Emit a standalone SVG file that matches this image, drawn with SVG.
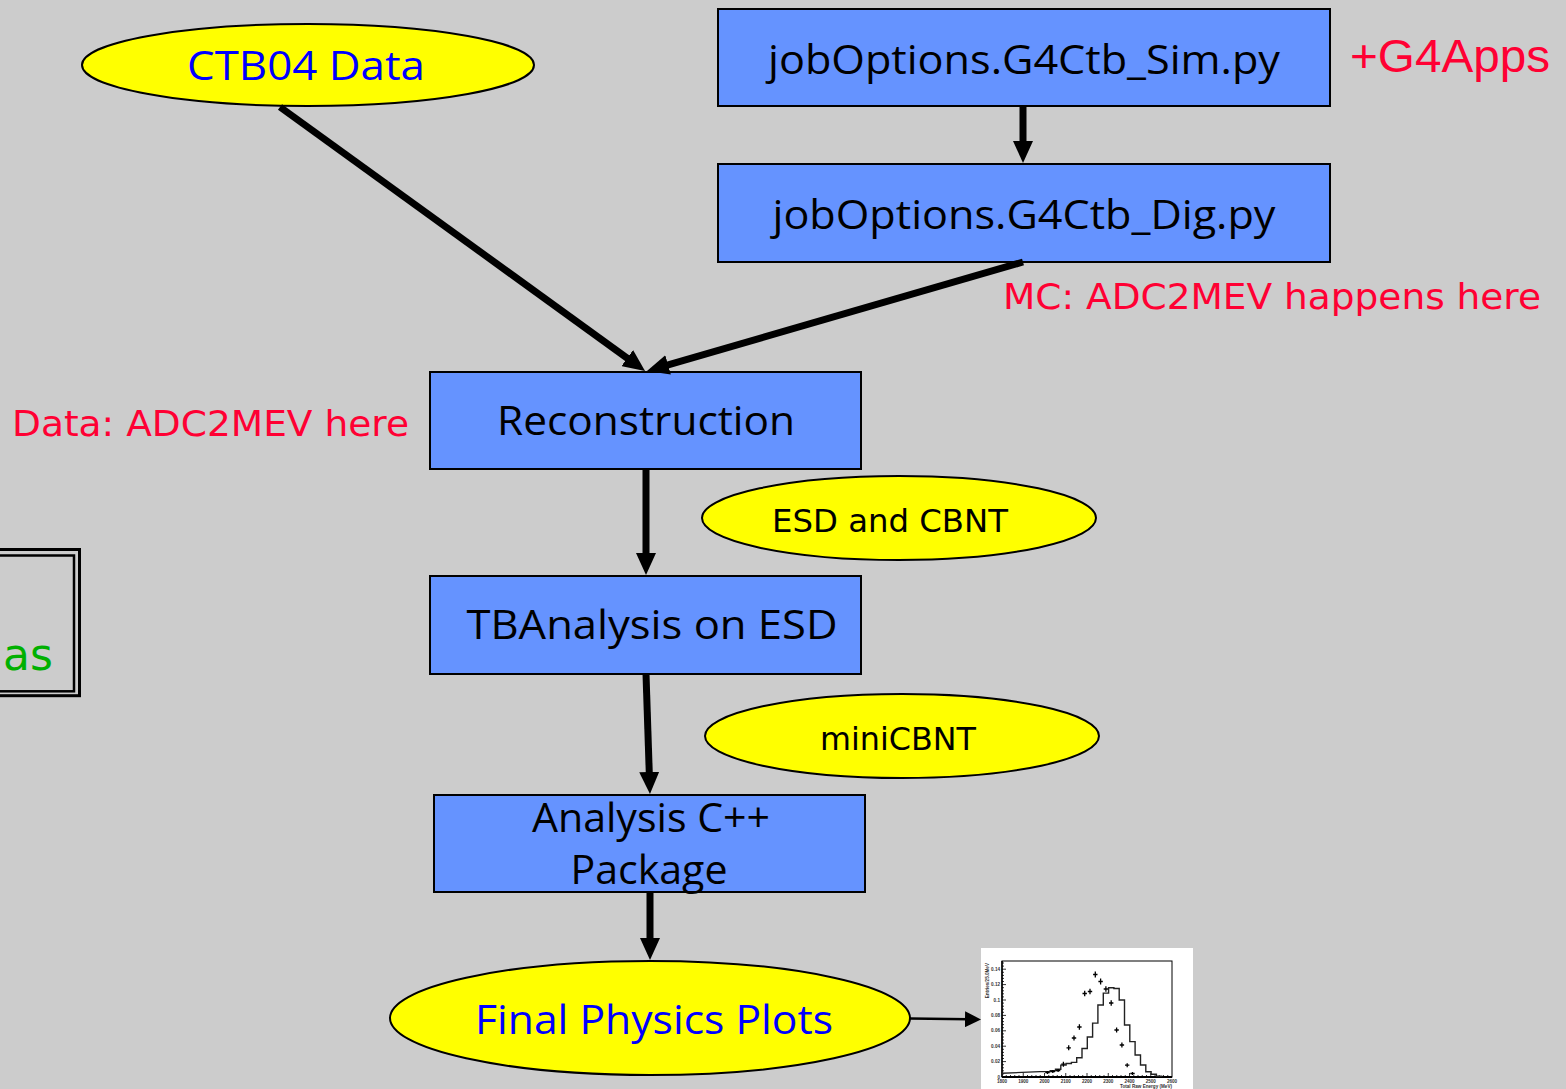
<svg xmlns="http://www.w3.org/2000/svg" width="1566" height="1089" viewBox="0 0 1566 1089">
  <style>
    .box { fill: #6593ff; stroke: #000; stroke-width: 2; }
    .oval { fill: #ffff00; stroke: #000; stroke-width: 2; }
    .hand { font-family: "Open Sans", "DejaVu Sans", sans-serif; font-size: 40px; fill: #000; text-anchor: middle; }
    .blue { fill: #0000ff; }
    .verd { font-family: "DejaVu Sans", Verdana, sans-serif; font-size: 32px; fill: #000; text-anchor: middle; }
    .note { font-family: "DejaVu Sans", Verdana, sans-serif; font-size: 36px; fill: #ff0033; }
    .conn { stroke: #000; stroke-width: 7; fill: none; }
    .thin { stroke: #000; stroke-width: 2.5; fill: none; }
    .tick { font-family: "Liberation Sans", Arial, sans-serif; font-size: 4.6px; font-weight: bold; fill: #333; }
  </style>
  <defs>
    <marker id="head" markerUnits="userSpaceOnUse" markerWidth="22" markerHeight="20" refX="8" refY="10" orient="auto">
      <path d="M0,0 L22,10 L0,20 Z" fill="#000"/>
    </marker>
    <marker id="headSmall" markerUnits="userSpaceOnUse" markerWidth="16" markerHeight="16" refX="4" refY="8" orient="auto">
      <path d="M0,0 L16,8 L0,16 Z" fill="#000"/>
    </marker>
  </defs>

  <rect x="0" y="0" width="1566" height="1089" fill="#cccccc"/>

  <!-- partially visible framed label at the left edge -->
  <g id="side-frame">
    <rect x="-20" y="549.5" width="99.5" height="146.2" fill="none" stroke="#000" stroke-width="3"/>
    <rect x="-20" y="555.5" width="94" height="135.8" fill="none" stroke="#000" stroke-width="2.5"/>
    <text x="53" y="670" text-anchor="end" font-family="DejaVu Sans, Verdana, sans-serif" font-size="44" fill="#00b000">as</text>
  </g>

  <g id="ctb04-data">
    <ellipse class="oval" cx="308" cy="65" rx="226" ry="41"/>
    <text class="hand blue" x="306" y="80" textLength="238" lengthAdjust="spacingAndGlyphs">CTB04 Data</text>
  </g>

  <g id="sim">
    <rect class="box" x="718" y="9" width="612" height="97"/>
    <text class="hand" x="1024" y="74" textLength="512" lengthAdjust="spacingAndGlyphs">jobOptions.G4Ctb_Sim.py</text>
  </g>

  <text id="g4apps" x="1350" y="72" font-family="Liberation Sans, Arial, sans-serif" font-size="46" fill="#ff0033" textLength="200" lengthAdjust="spacingAndGlyphs">+G4Apps</text>

  <g id="dig">
    <rect class="box" x="718" y="164" width="612" height="98"/>
    <text class="hand" x="1024" y="229" textLength="503" lengthAdjust="spacingAndGlyphs">jobOptions.G4Ctb_Dig.py</text>
  </g>

  <text id="mc-note" class="note" x="1003" y="309" textLength="538" lengthAdjust="spacingAndGlyphs">MC: ADC2MEV happens here</text>
  <text id="data-note" class="note" x="12" y="436" textLength="397" lengthAdjust="spacingAndGlyphs">Data: ADC2MEV here</text>

  <g id="reconstruction">
    <rect class="box" x="430" y="372" width="431" height="97"/>
    <text class="hand" x="646" y="435" textLength="298" lengthAdjust="spacingAndGlyphs">Reconstruction</text>
  </g>

  <g id="esd-cbnt">
    <ellipse class="oval" cx="899" cy="518" rx="197" ry="42"/>
    <text class="verd" x="890" y="532" textLength="236" lengthAdjust="spacingAndGlyphs">ESD and CBNT</text>
  </g>

  <g id="tbanalysis">
    <rect class="box" x="430" y="576" width="431" height="98"/>
    <text class="hand" x="652" y="639" textLength="371" lengthAdjust="spacingAndGlyphs">TBAnalysis on ESD</text>
  </g>

  <g id="minicbnt">
    <ellipse class="oval" cx="902" cy="736" rx="197" ry="42"/>
    <text class="verd" x="898" y="750" textLength="156" lengthAdjust="spacingAndGlyphs">miniCBNT</text>
  </g>

  <g id="analysis-package">
    <rect class="box" x="434" y="795" width="431" height="97"/>
    <text class="hand" x="651" y="832" textLength="238" lengthAdjust="spacingAndGlyphs">Analysis C++</text>
    <text class="hand" x="649" y="884" textLength="157" lengthAdjust="spacingAndGlyphs">Package</text>
  </g>

  <g id="final-plots">
    <ellipse class="oval" cx="650" cy="1018" rx="260" ry="57"/>
    <text class="hand blue" x="654" y="1034" font-size="44" textLength="358" lengthAdjust="spacingAndGlyphs">Final Physics Plots</text>
  </g>

  <!-- energy spectrum thumbnail -->
  <g id="energy-plot">
    <rect x="981" y="948" width="212" height="141" fill="#fff"/>
    <rect x="1002" y="961" width="170" height="116" fill="none" stroke="#000" stroke-width="1"/>
    <line x1="1002" y1="1077" x2="1172" y2="1077" stroke="#000" stroke-width="2"/>
    <line x1="1002" y1="961" x2="1002" y2="1077" stroke="#000" stroke-width="1.5"/>
    <!-- axis ticks -->
    <path stroke="#000" stroke-width="0.8" fill="none" d="
      M1002,1061.6 h4 M1002,1046.2 h4 M1002,1030.8 h4 M1002,1015.4 h4 M1002,1000 h4 M1002,984.6 h4 M1002,969.2 h4
      M1002,1073.9 h2 M1002,1070.8 h2 M1002,1067.8 h2 M1002,1064.7 h2
      M1002,1058.5 h2 M1002,1055.4 h2 M1002,1052.4 h2 M1002,1049.3 h2
      M1002,1043.1 h2 M1002,1040 h2 M1002,1037 h2 M1002,1033.9 h2
      M1002,1027.7 h2 M1002,1024.6 h2 M1002,1021.6 h2 M1002,1018.5 h2
      M1002,1012.3 h2 M1002,1009.2 h2 M1002,1006.2 h2 M1002,1003.1 h2
      M1002,996.9 h2 M1002,993.8 h2 M1002,990.8 h2 M1002,987.7 h2
      M1002,981.5 h2 M1002,978.4 h2 M1002,975.4 h2 M1002,972.3 h2
      M1002,966.1 h2 M1002,963 h2
      M1023.25,1077 v-4 M1044.5,1077 v-4 M1065.75,1077 v-4 M1087,1077 v-4 M1108.25,1077 v-4 M1129.5,1077 v-4 M1150.75,1077 v-4
      M1006.25,1077 v-2 M1010.5,1077 v-2 M1014.75,1077 v-2 M1019,1077 v-2
      M1027.5,1077 v-2 M1031.75,1077 v-2 M1036,1077 v-2 M1040.25,1077 v-2
      M1048.75,1077 v-2 M1053,1077 v-2 M1057.25,1077 v-2 M1061.5,1077 v-2
      M1070,1077 v-2 M1074.25,1077 v-2 M1078.5,1077 v-2 M1082.75,1077 v-2
      M1091.25,1077 v-2 M1095.5,1077 v-2 M1099.75,1077 v-2 M1104,1077 v-2
      M1112.5,1077 v-2 M1116.75,1077 v-2 M1121,1077 v-2 M1125.25,1077 v-2
      M1133.75,1077 v-2 M1138,1077 v-2 M1142.25,1077 v-2 M1146.5,1077 v-2
      M1155,1077 v-2 M1159.25,1077 v-2 M1163.5,1077 v-2 M1167.75,1077 v-2"/>
    <g class="tick" text-anchor="end">
      <text x="1000" y="1079">0</text>
      <text x="1000" y="1063.2">0.02</text>
      <text x="1000" y="1047.8">0.04</text>
      <text x="1000" y="1032.4">0.06</text>
      <text x="1000" y="1017">0.08</text>
      <text x="1000" y="1001.6">0.1</text>
      <text x="1000" y="986.2">0.12</text>
      <text x="1000" y="970.8">0.14</text>
    </g>
    <g class="tick" text-anchor="middle">
      <text x="1002" y="1082.5">1800</text>
      <text x="1023.25" y="1082.5">1900</text>
      <text x="1044.5" y="1082.5">2000</text>
      <text x="1065.75" y="1082.5">2100</text>
      <text x="1087" y="1082.5">2200</text>
      <text x="1108.25" y="1082.5">2300</text>
      <text x="1129.5" y="1082.5">2400</text>
      <text x="1150.75" y="1082.5">2500</text>
      <text x="1172" y="1082.5">2600</text>
    </g>
    <text class="tick" x="1172" y="1087.5" text-anchor="end">Total Raw Energy (MeV)</text>
    <text class="tick" x="989" y="963" text-anchor="end" transform="rotate(-90 989 963)">Entries/25.0MeV</text>
    <!-- simulated spectrum -->
    <path fill="none" stroke="#222" stroke-width="1.4" d="M1002,1073.3 L1040,1071.6 H1050.2 V1070.8 H1055.5 V1069.3 H1060.8 V1065.1 H1066.1 V1063.5 H1071.4 V1062.4 H1076.7 V1057.8 H1082 V1048.5 H1087.3 V1037 H1092.6 V1023.1 H1097.9 V1005 H1103.3 V993.1 H1108.6 V987.7 H1113.9 V988.5 H1119.2 V1000 H1124.5 V1025 H1129.8 V1041.6 H1135.1 V1055 H1140.5 V1065 H1145.8 V1071.7 H1151.1 V1074.3 H1156.4 V1076.2 H1161.7 V1077"/>
    <!-- measured points with error bars -->
    <path fill="none" stroke="#000" stroke-width="1.3" d="
      M1045.3,1072.5 h4.4 M1047.5,1071 v3
      M1050.6,1071.5 h4.4 M1052.8,1070 v3
      M1055.9,1070.5 h4.4 M1058.1,1069 v3
      M1061.2,1064.2 h4.4 M1063.4,1061.7 v5
      M1066.5,1047.8 h4.4 M1068.7,1045.3 v5
      M1071.8,1038 h4.4 M1074,1035.5 v5
      M1077.2,1027 h4.4 M1079.4,1024.3 v5.4
      M1082.5,993.5 h4.4 M1084.7,990.7 v5.6
      M1087.8,991.5 h4.4 M1090,988.7 v5.6
      M1093.1,974.5 h4.4 M1095.3,971.5 v6
      M1098.4,981.5 h4.4 M1100.6,978.5 v6
      M1103.7,989 h4.4 M1105.9,986.2 v5.6
      M1109,1003 h4.4 M1111.2,1000.3 v5.4
      M1114.4,1030 h4.4 M1116.6,1027.5 v5
      M1119.7,1045 h4.4 M1121.9,1042.5 v5
      M1125,1065.2 h4.4 M1127.2,1063.2 v4
      M1130.3,1073.5 h4.4 M1132.5,1072 v3"/>
  </g>

  <g id="connectors">
    <line class="conn" x1="280" y1="107" x2="633.7" y2="362.8" marker-end="url(#head)"/>
    <line class="conn" x1="1023" y1="262" x2="660.4" y2="367.1" marker-end="url(#head)"/>
    <line class="conn" x1="1023" y1="106" x2="1023" y2="149" marker-end="url(#head)"/>
    <line class="conn" x1="646" y1="469" x2="646" y2="561" marker-end="url(#head)"/>
    <line class="conn" x1="646" y1="674" x2="649.5" y2="780" marker-end="url(#head)"/>
    <line class="conn" x1="650" y1="892" x2="650" y2="946" marker-end="url(#head)"/>
    <line class="thin" x1="910" y1="1018.5" x2="969" y2="1019.3" marker-end="url(#headSmall)"/>
  </g>
</svg>
